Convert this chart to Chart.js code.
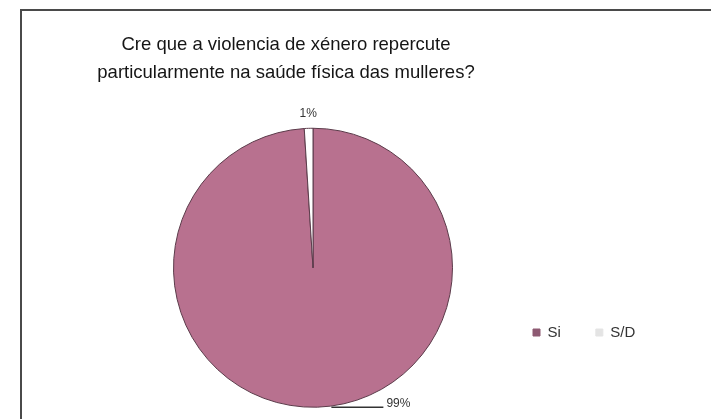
<!DOCTYPE html>
<html>
<head>
<meta charset="utf-8">
<script src="https://cdn.jsdelivr.net/npm/chart.js@4"></script>
<style>
    html, body { margin: 0; padding: 0; background: #fff; }
    #wrap { position: relative; width: 711px; height: 419px; overflow: hidden; }
    #frame {
        position: absolute; left: 20px; top: 9px; width: 800px; height: 500px;
        border-left: 2px solid #4a4a4a; border-top: 2px solid #4a4a4a;
    }
    canvas { position: absolute; left: 0; top: 0; }
</style>
</head>
<body>
<div id="wrap">
    <div id="frame"></div>
    <canvas id="grafico" width="711" height="419"></canvas>
</div>
<script>
// ===== DATOS =====
const categorias = ["Si", "S/D"];
const valores = [99, 1];
const etiquetas = ["99%", "1%"];
const cores = ["#b8718f", "#ffffff"];
const coresLenda = ["#8e5a73", "#e4e4e4"];

const tituloLinhas = [
    "Cre que a violencia de xénero repercute",
    "particularmente na saúde física das mulleres?"
];

// rótulos das porcentagens (99% con liña guía, 1% enriba)
const rotulosPlugin = {
    id: "rotulos",
    afterDatasetsDraw(chart) {
        const ctx = chart.ctx;
        const meta = chart.getDatasetMeta(0);
        ctx.save();
        ctx.font = "12px 'Liberation Sans', Arial, sans-serif";
        ctx.fillStyle = "#333";
        ctx.strokeStyle = "#333";
        ctx.lineWidth = 1.5;
        meta.data.forEach((arc, i) => {
            const p = arc.getProps(["x", "y", "startAngle", "endAngle", "outerRadius"], true);
            const mid = (p.startAngle + p.endAngle) / 2;
            if (i === 0) {
                const x0 = p.x + Math.cos(mid) * p.outerRadius + 14;
                const y0 = p.y + Math.sin(mid) * p.outerRadius;
                ctx.beginPath();
                ctx.moveTo(x0, y0);
                ctx.lineTo(x0 + 52, y0);
                ctx.stroke();
                ctx.textAlign = "left";
                ctx.textBaseline = "middle";
                ctx.fillText(etiquetas[i], x0 + 55, y0 - 3);
            } else {
                const r = p.outerRadius + 15;
                ctx.textAlign = "center";
                ctx.textBaseline = "middle";
                ctx.fillText(etiquetas[i], p.x + Math.cos(mid) * r, p.y + Math.sin(mid) * r);
            }
        });
        ctx.restore();
    }
};

// leva a lenda á dereita e o título ao seu sitio, como no orixinal
const colocacaoPlugin = {
    id: "colocacao",
    afterLayout(chart) {
        const lg = chart.legend;
        const w = lg.width, h = lg.height;
        lg.left = 498; lg.right = lg.left + w;
        lg.top = 290; lg.bottom = lg.top + h;
        const t = chart.titleBlock;
        if (t) {
            const th = t.height;
            t.left = 21; t.right = 551; t.width = 530;
            t.top = 31; t.bottom = t.top + th;
        }
    }
};

document.addEventListener("DOMContentLoaded", () => {
    const canvas = document.getElementById("grafico");
    const baseLabels = Chart.overrides.pie.plugins.legend.labels.generateLabels;

    new Chart(canvas, {
        type: "pie",
        data: {
            labels: categorias,
            datasets: [{
                data: valores,
                backgroundColor: cores,
                borderColor: "#5b3b4a",
                borderWidth: 1
            }]
        },
        options: {
            responsive: false,
            animation: false,
            layout: {
                padding: { left: 173, right: 258, top: 12, bottom: 11 }
            },
            plugins: {
                title: {
                    display: true,
                    text: tituloLinhas,
                    color: "#151515",
                    font: { family: "'Liberation Sans', Arial, sans-serif", size: 18.5, weight: "normal", lineHeight: 1.5 },
                    padding: { top: 0, bottom: 0 }
                },
                legend: {
                    position: "top",
                    align: "start",
                    labels: {
                        color: "#333",
                        font: { family: "'Liberation Sans', Arial, sans-serif", size: 15 },
                        boxWidth: 7,
                        boxHeight: 7,
                        padding: 35,
                        generateLabels(chart) {
                            return baseLabels(chart).map((it, i) => {
                                it.fillStyle = coresLenda[i];
                                it.strokeStyle = coresLenda[i];
                                return it;
                            });
                        }
                    }
                },
                tooltip: { enabled: false }
            }
        },
        plugins: [rotulosPlugin, colocacaoPlugin]
    });
});
</script>
</body>
</html>
